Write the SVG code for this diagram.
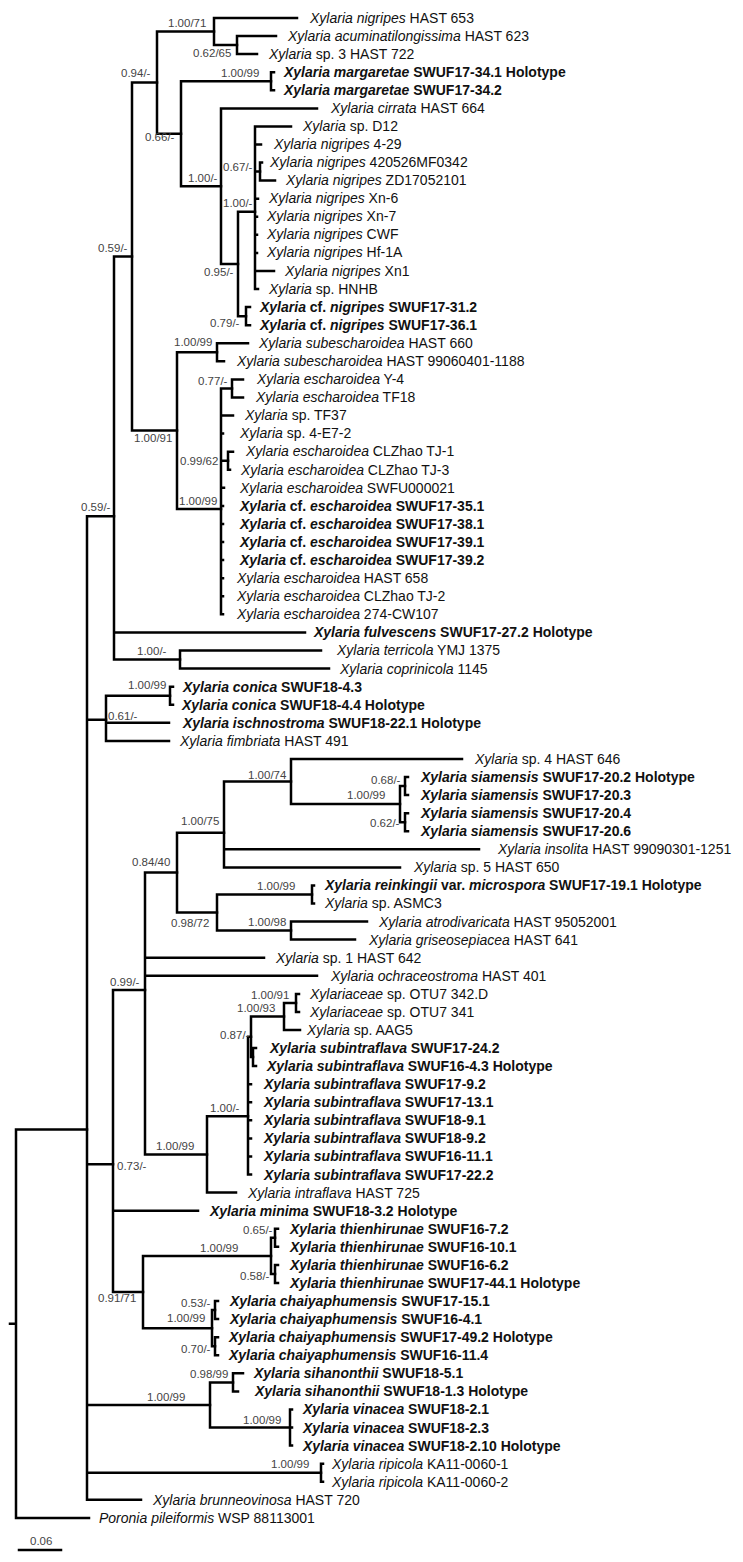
<svg xmlns="http://www.w3.org/2000/svg" width="743" height="1562" viewBox="0 0 743 1562">
<style>
.t{font-family:"Liberation Sans",Arial,sans-serif;font-size:14px;fill:#111}
.b{font-weight:bold}
.i{font-style:italic}
.s{font-family:"Liberation Sans",Arial,sans-serif;font-size:11.5px;fill:#444}
.br{fill:none;stroke:#000;stroke-width:2.5;stroke-linecap:square}
</style>
<rect width="743" height="1562" fill="#fff"/>
<g id="connectors" class="br">
<path d="M16 1129.6V1517.9M16 1129.6H87M16 1517.9H89M10 1323.8H16"/>
<path d="M87 516.2V1499.8M87 516.2H114M87 719.8H106M87 1164.3H113M87 1405H210M87 1472.8H321M87 1499.8H141"/>
<path d="M114 256.6V659.6M114 256.6H132M114 632.4H305M114 659.6H180"/>
<path d="M132 82.6V430.6M132 82.6H157M132 430.6H177"/>
<path d="M157 31.6V133.7M157 31.6H214M157 133.7H181"/>
<path d="M214 18V45.1M214 18H297M214 45.1H237"/>
<path d="M237 36.1V54.1M237 36.1H276M237 54.1H257"/>
<path d="M181 81.3V186.2M181 81.3H271M181 186.2H221"/>
<path d="M271 72.2V90.3M271 72.2H274M271 90.3H274"/>
<path d="M221 108.4V264M221 108.4H317M221 264H238"/>
<path d="M238 211.8V316.2M238 211.8H255M238 316.2H246"/>
<path d="M255 126.4V289.1M255 126.4H291M255 144.5H261M255 171.6H260M255 198.7H258M255 216.8H257M255 234.8H257M255 252.9H257M255 271H274M255 289.1H258"/>
<path d="M260 162.6V180.6M260 162.6H262M260 180.6H275"/>
<path d="M246 307.1V325.2M246 307.1H250M246 325.2H250"/>
<path d="M177 352.3V508.9M177 352.3H217M177 508.9H221"/>
<path d="M217 343.3V361.3M217 343.3H248M217 361.3H224"/>
<path d="M221 388.5V614.3M221 388.5H232M221 415.6H233M221 433.6H223M221 460.8H228M221 487.8H224M221 505.9H223M221 524H223M221 542.1H223M221 560.1H223M221 578.2H223M221 596.3H223M221 614.3H223"/>
<path d="M232 379.4V397.5M232 379.4H243M232 397.5H243"/>
<path d="M228 451.7V469.8M228 451.7H233M228 469.8H230"/>
<path d="M180 650.5V668.6M180 650.5H321M180 668.6H329"/>
<path d="M106 695.7V740.9M106 695.7H170M106 722.8H169M106 740.9H169"/>
<path d="M170 686.7V704.7M170 686.7H173M170 704.7H173"/>
<path d="M113 990.1V1292.1M113 990.1H145M113 1210.7H198M113 1292.1H143"/>
<path d="M145 872.6V1154.4M145 872.6H177M145 957.7H264M145 975.8H317M145 1154.4H207"/>
<path d="M177 832.7V912.5M177 832.7H224M177 912.5H217"/>
<path d="M224 781.5V867.4M224 781.5H291M224 849.3H479M224 867.4H400"/>
<path d="M291 758.9V804.1M291 758.9H462M291 804.1H400"/>
<path d="M400 786.1V822.2M400 786.1H405M400 822.2H405"/>
<path d="M405 777V795.1M405 777H408M405 795.1H408"/>
<path d="M405 813.2V831.2M405 813.2H408M405 831.2H408"/>
<path d="M217 894.5V930.6M217 894.5H312M217 930.6H291"/>
<path d="M312 885.4V903.5M312 885.4H314M312 903.5H314"/>
<path d="M291 921.6V939.6M291 921.6H367M291 939.6H355"/>
<path d="M207 1116.2V1192.6M207 1116.2H248M207 1192.6H236"/>
<path d="M248 1036.8V1174.6M248 1036.8H251M248 1084.2H251M248 1102.3H251M248 1120.3H251M248 1138.4H251M248 1156.5H251M248 1174.6H251"/>
<path d="M251 1016.5V1057.1M251 1016.5H284M251 1057.1H253"/>
<path d="M284 1002.9V1030M284 1002.9H296M284 1030H300"/>
<path d="M296 993.9V1011.9M296 993.9H299M296 1011.9H299"/>
<path d="M253 1048.1V1066.1M253 1048.1H256M253 1066.1H256"/>
<path d="M143 1255.9V1328.2M143 1255.9H271M143 1328.2H212"/>
<path d="M271 1237.8V1274M271 1237.8H275M271 1274H275"/>
<path d="M275 1228.8V1246.8M275 1228.8H278M275 1246.8H278"/>
<path d="M275 1264.9V1283M275 1264.9H278M275 1283H278"/>
<path d="M212 1310.1V1346.3M212 1310.1H215M212 1346.3H215"/>
<path d="M215 1301.1V1319.1M215 1301.1H218M215 1319.1H218"/>
<path d="M215 1337.2V1355.3M215 1337.2H218M215 1355.3H218"/>
<path d="M210 1382.4V1427.6M210 1382.4H233M210 1427.6H290"/>
<path d="M233 1373.3V1391.4M233 1373.3H243M233 1391.4H238"/>
<path d="M290 1409.5V1445.6M290 1409.5H292M290 1427.6H292M290 1445.6H292"/>
<path d="M321 1463.7V1481.8M321 1463.7H323M321 1481.8H323"/>
<path d="M19 1550H61"/>
</g>
<g id="support">
<text class="s" x="168" y="27">1.00/71</text>
<text class="s" x="193" y="57">0.62/65</text>
<text class="s" x="121" y="77">0.94/-</text>
<text class="s" x="221" y="77">1.00/99</text>
<text class="s" x="145" y="141">0.66/-</text>
<text class="s" x="188" y="182">1.00/-</text>
<text class="s" x="223" y="171">0.67/-</text>
<text class="s" x="223" y="207">1.00/-</text>
<text class="s" x="98" y="252">0.59/-</text>
<text class="s" x="204" y="276">0.95/-</text>
<text class="s" x="210" y="327">0.79/-</text>
<text class="s" x="174" y="346">1.00/99</text>
<text class="s" x="198" y="385">0.77/-</text>
<text class="s" x="134" y="442">1.00/91</text>
<text class="s" x="180" y="465">0.99/62</text>
<text class="s" x="179" y="505">1.00/99</text>
<text class="s" x="81" y="511">0.59/-</text>
<text class="s" x="137" y="655">1.00/-</text>
<text class="s" x="128" y="689">1.00/99</text>
<text class="s" x="108" y="720">0.61/-</text>
<text class="s" x="248" y="779">1.00/74</text>
<text class="s" x="371" y="784">0.68/-</text>
<text class="s" x="347" y="799">1.00/99</text>
<text class="s" x="370" y="827">0.62/-</text>
<text class="s" x="181" y="825">1.00/75</text>
<text class="s" x="132" y="866">0.84/40</text>
<text class="s" x="257" y="890">1.00/99</text>
<text class="s" x="171" y="927">0.98/72</text>
<text class="s" x="248" y="926">1.00/98</text>
<text class="s" x="110" y="986">0.99/-</text>
<text class="s" x="251" y="999">1.00/91</text>
<text class="s" x="237" y="1012">1.00/93</text>
<text class="s" x="220" y="1039">0.87/-</text>
<text class="s" x="210" y="1112">1.00/-</text>
<text class="s" x="156" y="1150">1.00/99</text>
<text class="s" x="117" y="1170">0.73/-</text>
<text class="s" x="243" y="1234">0.65/-</text>
<text class="s" x="200" y="1252">1.00/99</text>
<text class="s" x="240" y="1280">0.58/-</text>
<text class="s" x="98" y="1302">0.91/71</text>
<text class="s" x="181" y="1307">0.53/-</text>
<text class="s" x="167" y="1322">1.00/99</text>
<text class="s" x="181" y="1353">0.70/-</text>
<text class="s" x="190" y="1378">0.98/99</text>
<text class="s" x="147" y="1401">1.00/99</text>
<text class="s" x="243" y="1424">1.00/99</text>
<text class="s" x="271" y="1468">1.00/99</text>
<text class="s" x="30" y="1545">0.06</text>
</g>
<g id="t01"><text class="t" x="310" y="23"><tspan class="i">Xylaria nigripes</tspan> HAST 653</text></g>
<g id="t02"><text class="t" x="288" y="41"><tspan class="i">Xylaria acuminatilongissima</tspan> HAST 623</text></g>
<g id="t03"><text class="t" x="269" y="59"><tspan class="i">Xylaria</tspan> sp. 3 HAST 722</text></g>
<g id="t04"><text class="t b" x="284" y="77"><tspan class="i">Xylaria margaretae</tspan> SWUF17-34.1 Holotype</text></g>
<g id="t05"><text class="t b" x="284" y="95"><tspan class="i">Xylaria margaretae</tspan> SWUF17-34.2</text></g>
<g id="t06"><text class="t" x="331" y="113"><tspan class="i">Xylaria cirrata</tspan> HAST 664</text></g>
<g id="t07"><text class="t" x="303" y="131"><tspan class="i">Xylaria</tspan> sp. D12</text></g>
<g id="t08"><text class="t" x="274" y="149"><tspan class="i">Xylaria nigripes</tspan> 4-29</text></g>
<g id="t09"><text class="t" x="270" y="167"><tspan class="i">Xylaria nigripes</tspan> 420526MF0342</text></g>
<g id="t10"><text class="t" x="286" y="185"><tspan class="i">Xylaria nigripes</tspan> ZD17052101</text></g>
<g id="t11"><text class="t" x="269" y="203"><tspan class="i">Xylaria nigripes</tspan> Xn-6</text></g>
<g id="t12"><text class="t" x="267" y="221"><tspan class="i">Xylaria nigripes</tspan> Xn-7</text></g>
<g id="t13"><text class="t" x="267" y="239"><tspan class="i">Xylaria nigripes</tspan> CWF</text></g>
<g id="t14"><text class="t" x="267" y="257"><tspan class="i">Xylaria nigripes</tspan> Hf-1A</text></g>
<g id="t15"><text class="t" x="285" y="276"><tspan class="i">Xylaria nigripes</tspan> Xn1</text></g>
<g id="t16"><text class="t" x="269" y="294"><tspan class="i">Xylaria</tspan> sp. HNHB</text></g>
<g id="t17"><text class="t b" x="260" y="312"><tspan class="i">Xylaria</tspan> cf. <tspan class="i">nigripes</tspan> SWUF17-31.2</text></g>
<g id="t18"><text class="t b" x="260" y="330"><tspan class="i">Xylaria</tspan> cf. <tspan class="i">nigripes</tspan> SWUF17-36.1</text></g>
<g id="t19"><text class="t" x="259" y="348"><tspan class="i">Xylaria subescharoidea</tspan> HAST 660</text></g>
<g id="t20"><text class="t" x="237" y="366"><tspan class="i">Xylaria subescharoidea</tspan> HAST 99060401-1188</text></g>
<g id="t21"><text class="t" x="257" y="384"><tspan class="i">Xylaria escharoidea</tspan> Y-4</text></g>
<g id="t22"><text class="t" x="256" y="402"><tspan class="i">Xylaria escharoidea</tspan> TF18</text></g>
<g id="t23"><text class="t" x="245" y="420"><tspan class="i">Xylaria</tspan> sp. TF37</text></g>
<g id="t24"><text class="t" x="240" y="438"><tspan class="i">Xylaria</tspan> sp. 4-E7-2</text></g>
<g id="t25"><text class="t" x="246" y="456"><tspan class="i">Xylaria escharoidea</tspan> CLZhao TJ-1</text></g>
<g id="t26"><text class="t" x="241" y="475"><tspan class="i">Xylaria escharoidea</tspan> CLZhao TJ-3</text></g>
<g id="t27"><text class="t" x="240" y="493"><tspan class="i">Xylaria escharoidea</tspan> SWFU000021</text></g>
<g id="t28"><text class="t b" x="240" y="511"><tspan class="i">Xylaria</tspan> cf. <tspan class="i">escharoidea</tspan> SWUF17-35.1</text></g>
<g id="t29"><text class="t b" x="240" y="529"><tspan class="i">Xylaria</tspan> cf. <tspan class="i">escharoidea</tspan> SWUF17-38.1</text></g>
<g id="t30"><text class="t b" x="240" y="547"><tspan class="i">Xylaria</tspan> cf. <tspan class="i">escharoidea</tspan> SWUF17-39.1</text></g>
<g id="t31"><text class="t b" x="240" y="565"><tspan class="i">Xylaria</tspan> cf. <tspan class="i">escharoidea</tspan> SWUF17-39.2</text></g>
<g id="t32"><text class="t" x="237" y="583"><tspan class="i">Xylaria escharoidea</tspan> HAST 658</text></g>
<g id="t33"><text class="t" x="237" y="601"><tspan class="i">Xylaria escharoidea</tspan> CLZhao TJ-2</text></g>
<g id="t34"><text class="t" x="237" y="619"><tspan class="i">Xylaria escharoidea</tspan> 274-CW107</text></g>
<g id="t35"><text class="t b" x="314" y="637"><tspan class="i">Xylaria fulvescens</tspan> SWUF17-27.2 Holotype</text></g>
<g id="t36"><text class="t" x="337" y="655"><tspan class="i">Xylaria terricola</tspan> YMJ 1375</text></g>
<g id="t37"><text class="t" x="340" y="674"><tspan class="i">Xylaria coprinicola</tspan> 1145</text></g>
<g id="t38"><text class="t b" x="183" y="692"><tspan class="i">Xylaria conica</tspan> SWUF18-4.3</text></g>
<g id="t39"><text class="t b" x="182" y="710"><tspan class="i">Xylaria conica</tspan> SWUF18-4.4 Holotype</text></g>
<g id="t40"><text class="t b" x="183" y="728"><tspan class="i">Xylaria ischnostroma</tspan> SWUF18-22.1 Holotype</text></g>
<g id="t41"><text class="t" x="180" y="746"><tspan class="i">Xylaria fimbriata</tspan> HAST 491</text></g>
<g id="t42"><text class="t" x="475" y="764"><tspan class="i">Xylaria</tspan> sp. 4 HAST 646</text></g>
<g id="t43"><text class="t b" x="421" y="782"><tspan class="i">Xylaria siamensis</tspan> SWUF17-20.2 Holotype</text></g>
<g id="t44"><text class="t b" x="421" y="800"><tspan class="i">Xylaria siamensis</tspan> SWUF17-20.3</text></g>
<g id="t45"><text class="t b" x="421" y="818"><tspan class="i">Xylaria siamensis</tspan> SWUF17-20.4</text></g>
<g id="t46"><text class="t b" x="421" y="836"><tspan class="i">Xylaria siamensis</tspan> SWUF17-20.6</text></g>
<g id="t47"><text class="t" x="498" y="854"><tspan class="i">Xylaria insolita</tspan> HAST 99090301-1251</text></g>
<g id="t48"><text class="t" x="414" y="872"><tspan class="i">Xylaria</tspan> sp. 5 HAST 650</text></g>
<g id="t49"><text class="t b" x="325" y="890"><tspan class="i">Xylaria reinkingii</tspan> var. <tspan class="i">microspora</tspan> SWUF17-19.1 Holotype</text></g>
<g id="t50"><text class="t" x="325" y="908"><tspan class="i">Xylaria</tspan> sp. ASMC3</text></g>
<g id="t51"><text class="t" x="379" y="927"><tspan class="i">Xylaria atrodivaricata</tspan> HAST 95052001</text></g>
<g id="t52"><text class="t" x="369" y="945"><tspan class="i">Xylaria griseosepiacea</tspan> HAST 641</text></g>
<g id="t53"><text class="t" x="276" y="963"><tspan class="i">Xylaria</tspan> sp. 1 HAST 642</text></g>
<g id="t54"><text class="t" x="331" y="981"><tspan class="i">Xylaria ochraceostroma</tspan> HAST 401</text></g>
<g id="t55"><text class="t" x="310" y="999"><tspan class="i">Xylariaceae</tspan> sp. OTU7 342.D</text></g>
<g id="t56"><text class="t" x="310" y="1017"><tspan class="i">Xylariaceae</tspan> sp. OTU7 341</text></g>
<g id="t57"><text class="t" x="307" y="1035"><tspan class="i">Xylaria</tspan> sp. AAG5</text></g>
<g id="t58"><text class="t b" x="270" y="1053"><tspan class="i">Xylaria subintraflava</tspan> SWUF17-24.2</text></g>
<g id="t59"><text class="t b" x="267" y="1071"><tspan class="i">Xylaria subintraflava</tspan> SWUF16-4.3 Holotype</text></g>
<g id="t60"><text class="t b" x="264" y="1089"><tspan class="i">Xylaria subintraflava</tspan> SWUF17-9.2</text></g>
<g id="t61"><text class="t b" x="264" y="1107"><tspan class="i">Xylaria subintraflava</tspan> SWUF17-13.1</text></g>
<g id="t62"><text class="t b" x="264" y="1125"><tspan class="i">Xylaria subintraflava</tspan> SWUF18-9.1</text></g>
<g id="t63"><text class="t b" x="264" y="1143"><tspan class="i">Xylaria subintraflava</tspan> SWUF18-9.2</text></g>
<g id="t64"><text class="t b" x="264" y="1161"><tspan class="i">Xylaria subintraflava</tspan> SWUF16-11.1</text></g>
<g id="t65"><text class="t b" x="264" y="1180"><tspan class="i">Xylaria subintraflava</tspan> SWUF17-22.2</text></g>
<g id="t66"><text class="t" x="248" y="1198"><tspan class="i">Xylaria intraflava</tspan> HAST 725</text></g>
<g id="t67"><text class="t b" x="210" y="1216"><tspan class="i">Xylaria minima</tspan> SWUF18-3.2 Holotype</text></g>
<g id="t68"><text class="t b" x="290" y="1234"><tspan class="i">Xylaria thienhirunae</tspan> SWUF16-7.2</text></g>
<g id="t69"><text class="t b" x="290" y="1252"><tspan class="i">Xylaria thienhirunae</tspan> SWUF16-10.1</text></g>
<g id="t70"><text class="t b" x="290" y="1270"><tspan class="i">Xylaria thienhirunae</tspan> SWUF16-6.2</text></g>
<g id="t71"><text class="t b" x="290" y="1288"><tspan class="i">Xylaria thienhirunae</tspan> SWUF17-44.1 Holotype</text></g>
<g id="t72"><text class="t b" x="230" y="1306"><tspan class="i">Xylaria chaiyaphumensis</tspan> SWUF17-15.1</text></g>
<g id="t73"><text class="t b" x="230" y="1324"><tspan class="i">Xylaria chaiyaphumensis</tspan> SWUF16-4.1</text></g>
<g id="t74"><text class="t b" x="229" y="1342"><tspan class="i">Xylaria chaiyaphumensis</tspan> SWUF17-49.2 Holotype</text></g>
<g id="t75"><text class="t b" x="229" y="1360"><tspan class="i">Xylaria chaiyaphumensis</tspan> SWUF16-11.4</text></g>
<g id="t76"><text class="t b" x="254" y="1378"><tspan class="i">Xylaria sihanonthii</tspan> SWUF18-5.1</text></g>
<g id="t77"><text class="t b" x="255" y="1396"><tspan class="i">Xylaria sihanonthii</tspan> SWUF18-1.3 Holotype</text></g>
<g id="t78"><text class="t b" x="303" y="1414"><tspan class="i">Xylaria vinacea</tspan> SWUF18-2.1</text></g>
<g id="t79"><text class="t b" x="303" y="1433"><tspan class="i">Xylaria vinacea</tspan> SWUF18-2.3</text></g>
<g id="t80"><text class="t b" x="303" y="1451"><tspan class="i">Xylaria vinacea</tspan> SWUF18-2.10 Holotype</text></g>
<g id="t81"><text class="t" x="332" y="1469"><tspan class="i">Xylaria ripicola</tspan> KA11-0060-1</text></g>
<g id="t82"><text class="t" x="332" y="1487"><tspan class="i">Xylaria ripicola</tspan> KA11-0060-2</text></g>
<g id="t83"><text class="t" x="153" y="1505"><tspan class="i">Xylaria brunneovinosa</tspan> HAST 720</text></g>
<g id="t84"><text class="t" x="99" y="1523"><tspan class="i">Poronia pileiformis</tspan> WSP 88113001</text></g>
</svg>
